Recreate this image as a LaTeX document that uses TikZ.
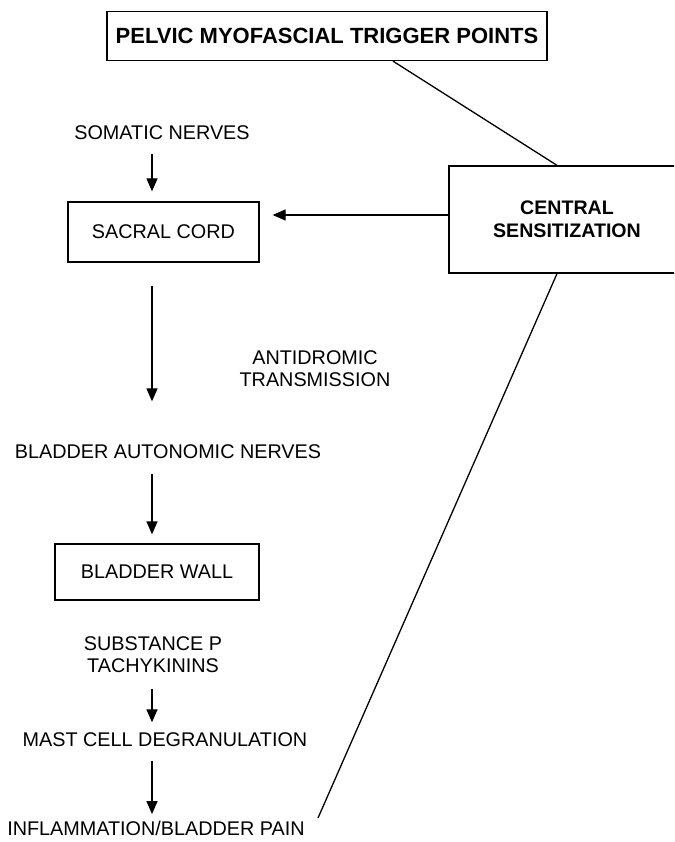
\documentclass[tikz,border=0pt]{standalone}
\usepackage{fontspec}
\setmainfont{Liberation Sans}
\usetikzlibrary{arrows.meta}
\tikzset{
  diagram/.style={
    x=1pt,
    y=-1pt,
    line width=1.3pt,
    line cap=butt,
    font=\fontsize{19.8}{22}\selectfont
  },
  label-text/.style={
    inner sep=0pt,
    align=center
  },
  label-box/.style={
    draw=black,
    line width=1.3pt,
    inner sep=0pt
  },
  arrow-line/.style={
    -{Triangle[width=11pt,length=13pt]},
    shorten <=13pt,
    shorten >=10pt
  },
  plain-line/.style={line width=1.3pt}
}

\begin{document}
\begin{tikzpicture}[diagram]
  \useasboundingbox (0,0) rectangle (674,842);
  \clip (0,0) rectangle (674,842);

  % 1. Top box and the central box (its right side runs off the page)
  \node[label-box, minimum width=440pt, minimum height=49pt,
        font=\fontsize{22}{24}\selectfont\bfseries]
    (trigger) at (327,36) {PELVIC MYOFASCIAL TRIGGER POINTS};
  \node[label-box, label-text, minimum width=236pt, minimum height=107pt,
        font=\fontsize{19.6}{23}\selectfont\bfseries]
    (central) at (567,219.5) {CENTRAL\\SENSITIZATION};

  % 2. Left column, top to bottom
  \node[label-text] (somatic) at (162,133) {SOMATIC NERVES};
  \node[label-box, minimum width=191pt, minimum height=60pt]
    (sacral) at (163.5,232) {SACRAL CORD};
  \node[label-text] (antidromic) at (315,369) {ANTIDROMIC\\TRANSMISSION};
  \node[label-text] (autonomic) at (168,452) {BLADDER AUTONOMIC NERVES};
  \node[label-box, minimum width=204pt, minimum height=56pt]
    (wall) at (157,572) {BLADDER WALL};
  \node[label-text] (substance) at (153,655) {SUBSTANCE P\\TACHYKININS};
  \node[label-text] (mast) at (165,740) {MAST CELL DEGRANULATION};
  \node[label-text] (pain) at (156,828) {INFLAMMATION/BLADDER PAIN};

  % column of the down arrows, and the free end of the long line
  \coordinate (col) at (152,0);
  \coordinate (line-end) at (318,818);

  % 3. Arrows
  \draw[arrow-line] (somatic.south -| col) -- (sacral.north -| col);
  \draw[arrow-line, shorten <=23pt, shorten >=43pt]
    (sacral.south -| col) -- (autonomic.north -| col);
  \draw[arrow-line, shorten <=14pt, shorten >=9pt]
    (autonomic.south -| col) -- (wall.north -| col);
  \draw[arrow-line, shorten <=15pt]
    (substance.south -| col) -- (mast.north -| col);
  \draw[arrow-line, shorten >=6pt]
    (mast.south -| col) -- (pain.north -| col);
  \draw[arrow-line, shorten <=0pt, shorten >=13pt]
    ([yshift=4.5pt]central.west) -- ([yshift=4.5pt]central.west -| sacral.east);

  % 4. Plain lines from the central box
  \draw[plain-line] ([xshift=66pt]trigger.south) -- ([xshift=-10pt]central.north);
  \draw[plain-line] ([xshift=-10pt]central.south) -- (line-end);

\end{tikzpicture}
\end{document}
